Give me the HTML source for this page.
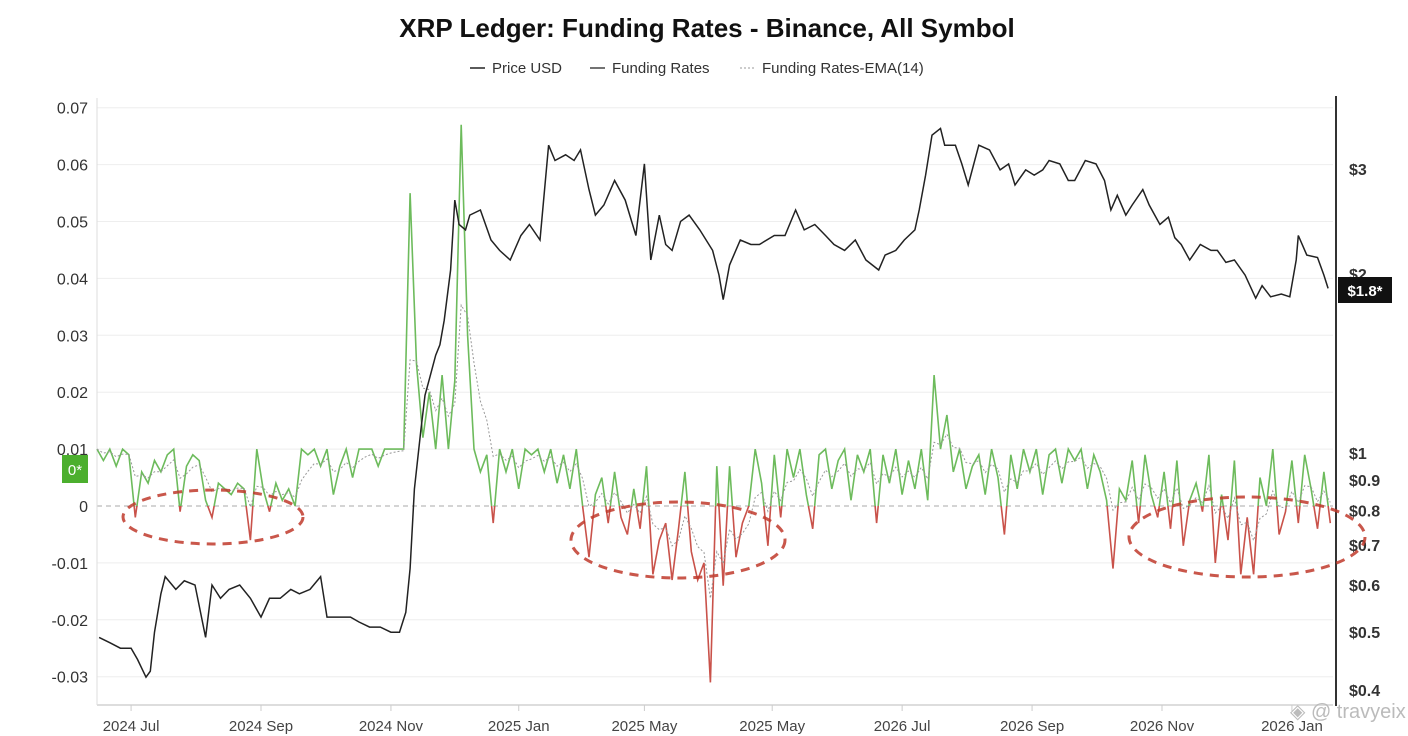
<!DOCTYPE html>
<html><head><meta charset="utf-8">
<style>
html,body{margin:0;padding:0;background:#fff;}
body{width:1408px;height:736px;overflow:hidden;font-family:"Liberation Sans",sans-serif;}
svg{display:block}
</style></head>
<body>
<svg id="chart" width="1408" height="736" viewBox="0 0 1408 736">
  <text x="707" y="37" text-anchor="middle" font-size="26" font-weight="bold" fill="#111">XRP Ledger: Funding Rates - Binance, All Symbol</text>
  <g font-size="15" fill="#333">
    <g><line x1="470" y1="68" x2="485" y2="68" stroke="#222" stroke-width="1.5"/><text x="492" y="73">Price USD</text></g>
    <g><line x1="590" y1="68" x2="605" y2="68" stroke="#444" stroke-width="1.5"/><text x="612" y="73">Funding Rates</text></g>
    <g><line x1="740" y1="68" x2="755" y2="68" stroke="#999" stroke-width="1" stroke-dasharray="2,2"/><text x="762" y="73">Funding Rates-EMA(14)</text></g>
  </g>
  <g id="grid"></g>
  <g id="axes"></g>
  <g id="marks"></g>
  <g fill="none" stroke="#c0392b" stroke-width="3" stroke-dasharray="9,7" opacity="0.85">
    <ellipse cx="213" cy="517" rx="90" ry="27"/>
    <ellipse cx="678" cy="540" rx="107" ry="38"/>
    <ellipse cx="1247" cy="537" rx="118" ry="40"/>
  </g>
  <g><rect x="62" y="455" width="26" height="28" fill="#4caf2e"/><text x="75" y="475" text-anchor="middle" font-size="15" fill="#fff">0*</text></g>
  <g><rect x="1338" y="277" width="54" height="26" fill="#111"/><text x="1365" y="296" text-anchor="middle" font-size="15" font-weight="bold" fill="#fff">$1.8*</text></g>
  <text x="1290" y="718" font-size="20" fill="#bbb">◈ @ travyeix</text>
</svg>
<script>
const priceDays=[1,6,11,16,19,23,25,27,30,32,37,41,46,51,54,58,62,67,72,77,81,86,91,95,100,105,108,114,119,123,128,133,138,142,145,147,149,152,154,156,159,161,163,166,168,170,173,175,180,185,189,194,199,203,208,212,215,220,224,227,231,234,238,243,248,253,257,260,264,267,270,274,278,283,289,292,294,297,302,307,311,318,323,328,332,337,342,346,351,356,361,367,370,375,379,384,386,389,392,396,398,403,406,409,414,419,424,428,431,436,440,444,447,452,456,459,464,469,473,476,479,483,486,491,494,499,503,506,509,513,518,523,526,530,534,539,544,547,551,556,560,563,564,568,573,576,578];
const priceUSD=[0.49,0.48,0.47,0.47,0.45,0.42,0.43,0.50,0.58,0.62,0.59,0.61,0.60,0.49,0.60,0.57,0.59,0.60,0.57,0.53,0.57,0.57,0.59,0.58,0.59,0.62,0.53,0.53,0.53,0.52,0.51,0.51,0.50,0.50,0.54,0.64,0.87,1.09,1.25,1.33,1.46,1.52,1.67,2.03,2.66,2.42,2.37,2.51,2.56,2.28,2.19,2.11,2.32,2.42,2.28,3.29,3.1,3.17,3.1,3.23,2.77,2.51,2.61,2.87,2.66,2.32,3.06,2.11,2.51,2.24,2.19,2.45,2.51,2.37,2.19,1.99,1.81,2.07,2.28,2.24,2.24,2.32,2.32,2.56,2.37,2.42,2.32,2.24,2.19,2.28,2.11,2.03,2.15,2.19,2.28,2.37,2.56,2.93,3.42,3.51,3.29,3.29,3.06,2.82,3.29,3.23,2.99,3.06,2.82,2.99,2.93,2.99,3.1,3.06,2.87,2.87,3.1,3.06,2.87,2.56,2.71,2.51,2.61,2.77,2.61,2.42,2.49,2.30,2.24,2.11,2.24,2.19,2.19,2.09,2.11,1.99,1.82,1.91,1.83,1.85,1.83,2.11,2.32,2.15,2.13,1.99,1.89];
const fundingStepDays=3;
const fundingMilli=[10,8,10,7,10,9,
-2,6,4,8,
6,9,10,-1,7,9,8,
1,-2,4,3,2,4,3,
-6,10,3,-1,4,1,3,0,
10,9,10,7,10,2,7,10,5,10,10,10,7,10,10,10,10,
55,25,12,20,10,23,10,22,67,30,10,6,9,
-3,10,6,10,3,10,9,10,6,10,4,9,3,10,0,
-9,2,5,-3,6,-2,-5,3,-4,7,
-12,-6,-3,-13,-4,6,-8,-13,
-10,-31,7,-14,7,-9,-3,
0,10,4,-7,9,-2,
10,5,10,2,-4,9,10,3,8,10,1,9,6,10,-3,9,4,10,2,8,
3,10,1,23,10,16,
6,10,3,7,9,2,10,5,-5,9,3,10,6,10,2,9,10,4,10,8,10,3,9,6,1,
-11,3,1,8,-3,9,2,-2,6,-4,8,-7,1,4,-1,9,-10,2,-6,8,-12,-2,-12,5,0,10,-5,-1,8,-3,9,3,-4,6,-3];
const leftTicks=[0.07,0.06,0.05,0.04,0.03,0.02,0.01,0,-0.01,-0.02,-0.03];
const leftTickLabels=["0.07","0.06","0.05","0.04","0.03","0.02","0.01","0","-0.01","-0.02","-0.03"];
const rightTicks=[3,2,1,0.9,0.8,0.7,0.6,0.5,0.4];
const rightTickLabels=["$3","$2","$1","$0.9","$0.8","$0.7","$0.6","$0.5","$0.4"];
const xTickDays=[16,77,138,198,257,317,378,439,500,561];
const xTickLabels=["2024 Jul","2024 Sep","2024 Nov","2025 Jan","2025 May","2025 May","2026 Jul","2026 Sep","2026 Nov","2026 Jan"];

const NS="http://www.w3.org/2000/svg";
const X0=97,X1=1333;
const xs=d=>X0+d*2.13;
const yL=v=>506-v*5690;
const yR=p=>453-Math.log(p)*258.5;
function mk(tag,attrs,parent){const e=document.createElementNS(NS,tag);for(const k in attrs)e.setAttribute(k,attrs[k]);parent.appendChild(e);return e;}
const grid=document.getElementById('grid'),axes=document.getElementById('axes'),marks=document.getElementById('marks');

leftTicks.forEach((t,i)=>{
  if(t!==0){const g=mk('line',{x1:X0,x2:X1,y1:yL(t),y2:yL(t),stroke:'#eeeeee','stroke-width':1},grid);
  
  }
  const tx=mk('text',{x:88,y:yL(t)+6,'text-anchor':'end','font-size':16,fill:'#333'},axes);
  tx.textContent=leftTickLabels[i];
  
  
});
const zl=mk('line',{x1:X0,x2:X1,y1:yL(0),y2:yL(0),stroke:'#aaa','stroke-width':1,'stroke-dasharray':'5,4'},grid);


rightTicks.forEach((t,i)=>{
  const tx=mk('text',{x:1349,y:yR(t)+6,'font-size':16,'font-weight':'bold',fill:'#333'},axes);
  tx.textContent=rightTickLabels[i];
  
  
});
mk('line',{x1:X0,x2:X0,y1:98,y2:705,stroke:'#ddd'},axes);
mk('line',{x1:X0,x2:X1,y1:705,y2:705,stroke:'#ddd','stroke-width':2},axes);
const ra=mk('line',{x1:1336,x2:1336,y1:96,y2:706,stroke:'#333','stroke-width':2},axes);


xTickDays.forEach((d,i)=>{
  mk('line',{x1:xs(d),x2:xs(d),y1:705,y2:711,stroke:'#ccc'},axes);
  const tx=mk('text',{x:xs(d),y:731,'text-anchor':'middle','font-size':15,fill:'#444'},axes);
  tx.textContent=xTickLabels[i];
  
  
});

// clip paths for pos/neg funding
const defs=mk('defs',{},marks);
const cp=mk('clipPath',{id:'pos'},defs);mk('rect',{x:0,y:0,width:1408,height:yL(0)},cp);
const cn=mk('clipPath',{id:'neg'},defs);mk('rect',{x:0,y:yL(0),width:1408,height:300},cn);

const fPts=fundingMilli.map((v,i)=>[xs(i*fundingStepDays),yL(v/1000)]);
const fd='M'+fPts.map(p=>p[0].toFixed(1)+','+p[1].toFixed(1)).join('L');
const fg=mk('path',{d:fd,fill:'none',stroke:'#6dbb5c','stroke-width':1.6,'clip-path':'url(#pos)'},marks);


const fr=mk('path',{d:fd,fill:'none',stroke:'#c9524a','stroke-width':1.6,'clip-path':'url(#neg)'},marks);



const a=2/(14/fundingStepDays+1);let e=fundingMilli[0];
const ePts=fundingMilli.map((v,i)=>{e=i?a*v+(1-a)*e:v;return [xs(i*fundingStepDays),yL(e/1000)];});
const ep=mk('path',{d:'M'+ePts.map(p=>p[0].toFixed(1)+','+p[1].toFixed(1)).join('L'),fill:'none',stroke:'#999','stroke-width':1,'stroke-dasharray':'2,2'},marks);



const pp=mk('path',{d:'M'+priceDays.map((d,i)=>xs(d).toFixed(1)+','+yR(priceUSD[i]).toFixed(1)).join('L'),fill:'none',stroke:'#222','stroke-width':1.5},marks);


</script>
</body></html>
